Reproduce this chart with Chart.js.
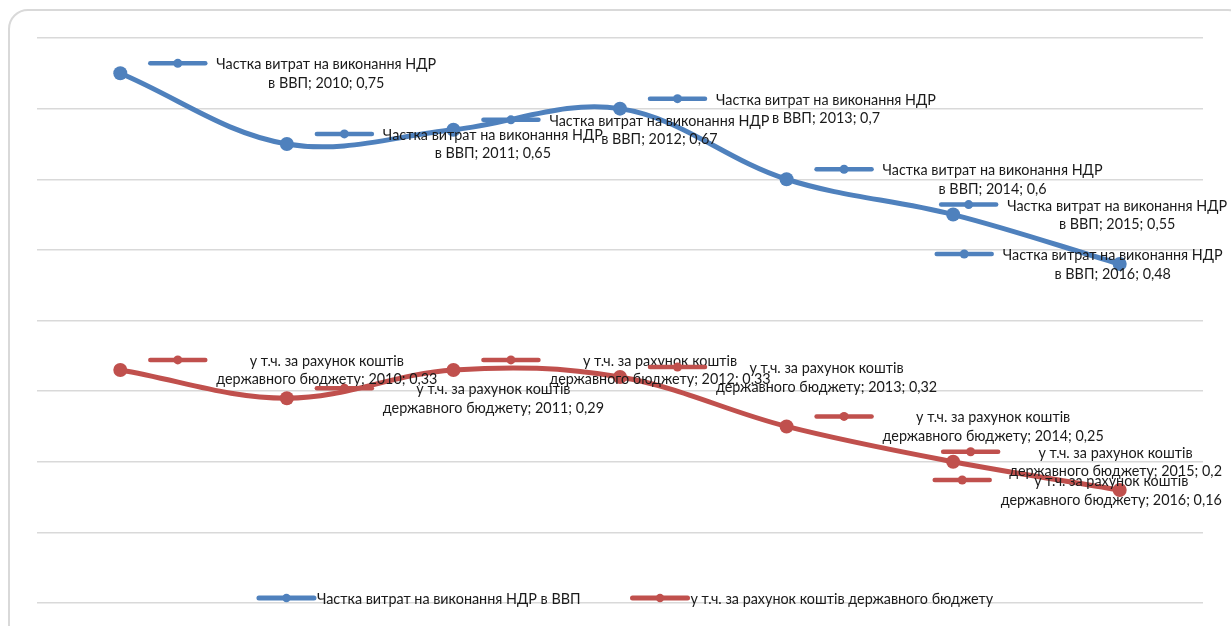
<!DOCTYPE html>
<html>
<head>
<meta charset="utf-8">
<script src="https://cdn.jsdelivr.net/npm/chart.js@4.4.1/dist/chart.umd.min.js"></script>
<style>
  html, body { margin: 0; padding: 0; background: #ffffff; overflow: hidden; }
  #wrap { position: relative; width: 1231px; height: 626px; }
  #frame { position: absolute; left: 8px; top: 9px; width: 1240px; height: 640px;
           border: 2px solid #d9d9d9; border-radius: 20px; box-sizing: border-box; }
  #c { position: absolute; left: 0; top: 0; }
</style>
</head>
<body>
<div id="wrap">
  <div id="frame"></div>
  <canvas id="c" width="1231" height="626"></canvas>
</div>
<script>
// ---- data ----
const years = ['2010', '2011', '2012', '2013', '2014', '2015', '2016'];
const rdShareGDP = [0.75, 0.65, 0.67, 0.70, 0.60, 0.55, 0.48];
const budgetShareGDP = [0.33, 0.29, 0.33, 0.32, 0.25, 0.20, 0.16];
const seriesNames = ['Частка витрат на виконання НДР в ВВП', 'у т.ч. за рахунок коштів державного бюджету'];
const seriesNameLines = [['Частка витрат на виконання НДР', 'в ВВП'], ['у т.ч. за рахунок коштів', 'державного бюджету']];
const yMin = 0, yMax = 0.8, yStep = 0.1;

// ---- layout / style ----
const colors = ['#4f81bd', '#c0504d'];
const labelKeyDx = [[30, 30, 30, 30, 30, -12, -183], [30, 30, 30, 30, 30, -10, -185]];
const fontFamily = "Lato, 'Liberation Sans', sans-serif";
const targetWidth = 220;

function fitFontSize() {
  const cv = document.createElement('canvas').getContext('2d');
  cv.font = '100px ' + fontFamily;
  const w = cv.measureText(seriesNameLines[0][0]).width;
  return 100 * targetWidth / w;
}
const fontSize = fitFontSize();
const font = fontSize.toFixed(2) + 'px ' + fontFamily;

function fmt(v) { return String(v).replace('.', ','); }

function drawKey(ctx, x, y, len, color, lw, r) {
  ctx.save();
  ctx.strokeStyle = color; ctx.lineWidth = lw; ctx.lineCap = 'round';
  ctx.beginPath(); ctx.moveTo(x, y); ctx.lineTo(x + len, y); ctx.stroke();
  ctx.fillStyle = color;
  ctx.beginPath(); ctx.arc(x + len / 2, y, r, 0, Math.PI * 2); ctx.fill();
  ctx.restore();
}

const labelPlugin = {
  id: 'excelLabels',
  afterDatasetsDraw(chart) {
    const ctx = chart.ctx;
    ctx.save();
    ctx.font = font;
    ctx.textBaseline = 'alphabetic';
    ctx.textAlign = 'center';
    chart.data.datasets.forEach((ds, i) => {
      const meta = chart.getDatasetMeta(i);
      meta.data.forEach((el, j) => {
        const kx = el.x + labelKeyDx[i][j];
        const ky = el.y - 10;
        drawKey(ctx, kx, ky, 55, colors[i], 4.5, 4.5);
        const l1 = seriesNameLines[i][0];
        const l2 = seriesNameLines[i][1] + '; ' + chart.data.labels[j] + '; ' + fmt(ds.data[j]);
        const w = Math.max(ctx.measureText(l1).width, ctx.measureText(l2).width);
        const cx = kx + 55 + 11 + w / 2;
        ctx.fillStyle = '#1a1a1a';
        ctx.fillText(l1, cx, el.y - 4);
        ctx.fillText(l2, cx, el.y + 14.5);
      });
    });
    ctx.restore();
  },
  afterDraw(chart) {
    // legend
    const ctx = chart.ctx;
    ctx.save();
    ctx.font = font;
    ctx.textBaseline = 'middle';
    ctx.textAlign = 'left';
    const keyLen = 55, gapKT = 3, gapItems = 52;
    const widths = seriesNames.map(n => ctx.measureText(n).width);
    const total = widths.reduce((a, w) => a + keyLen + gapKT + w, 0) + gapItems * (seriesNames.length - 1);
    let x = (chart.chartArea.left + chart.chartArea.right) / 2 + 6 - total / 2;
    const y = chart.chartArea.bottom - 5;
    seriesNames.forEach((n, i) => {
      drawKey(ctx, x, y, keyLen, colors[i], 5, 4.2);
      ctx.fillStyle = '#1a1a1a';
      ctx.fillText(n, x + keyLen + gapKT, y + 1);
      x += keyLen + gapKT + widths[i] + gapItems;
    });
    ctx.restore();
  }
};

new Chart(document.getElementById('c'), {
  type: 'line',
  data: {
    labels: years,
    datasets: [
      { label: seriesNames[0], data: rdShareGDP, borderColor: colors[0], backgroundColor: colors[0],
        borderWidth: 5, pointRadius: 7, pointBorderWidth: 0, pointBackgroundColor: colors[0], tension: 0.36, fill: false },
      { label: seriesNames[1], data: budgetShareGDP, borderColor: colors[1], backgroundColor: colors[1],
        borderWidth: 5, pointRadius: 7, pointBorderWidth: 0, pointBackgroundColor: colors[1], tension: 0.36, fill: false }
    ]
  },
  options: {
    responsive: false,
    animation: false,
    events: [],
    layout: { padding: { left: 37, right: 28, top: 38, bottom: 23 } },
    plugins: { legend: { display: false }, tooltip: { enabled: false } },
    scales: {
      x: { type: 'category', offset: true, display: false },
      y: {
        min: yMin, max: yMax,
        ticks: { display: false, stepSize: yStep },
        grid: { color: '#d9d9d9', lineWidth: 1.5, drawTicks: false },
        border: { display: false },
        afterFit(scale) { scale.width = 0; }
      }
    }
  },
  plugins: [labelPlugin]
});
</script>
</body>
</html>
